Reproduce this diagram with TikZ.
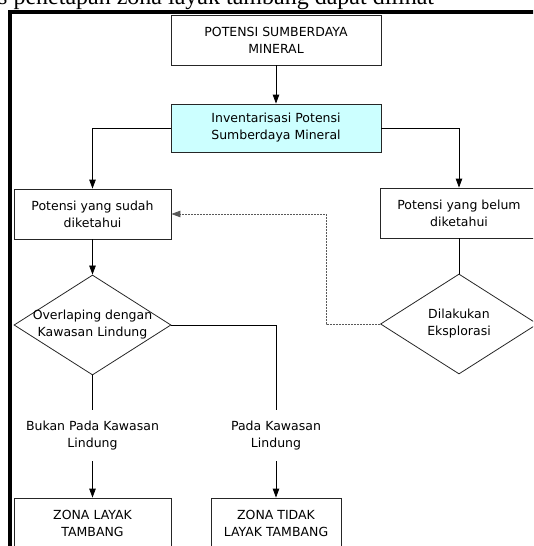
\documentclass[tikz,border=0pt]{standalone}
\usepackage{fontspec}
\newfontfamily\boxfont{DejaVu Sans}
\newfontfamily\pagefont{Liberation Serif}
\usetikzlibrary{shapes.geometric,arrows.meta}
\definecolor{invcyan}{RGB}{204,255,255}

\begin{document}
\begin{tikzpicture}[x=1pt,y=-1pt,
	box/.style={draw=black!85, line width=0.8pt, align=center, minimum height=50pt, inner sep=0pt, font=\boxfont\fontsize{12.5}{17}\selectfont},
	decision/.style={draw=black!85, line width=0.8pt, diamond, minimum width=157pt, minimum height=100pt, inner sep=0pt},
	txt/.style={align=center, inner sep=0pt, font=\boxfont\fontsize{12.5}{17}\selectfont},
	arr/.style={line width=0.8pt, -{Triangle[length=9pt,width=6.5pt]}},
	ln/.style={line width=0.8pt}]
			\useasboundingbox (0,0) rectangle (533,546);
			\clip (0,0) rectangle (533,546);
			% page text and frame
			\node[anchor=base west, inner sep=0pt, font=\pagefont\fontsize{24}{24}\selectfont] (pagetext) at (-2,4.5) {s penetapan zona layak tambang dapat dilihat};
			\draw[line width=4pt] (10,550) -- (10,12) -- (540,12);
			% boxes
			\node[box, minimum width=210pt] (potensi) at (276,40) {POTENSI SUMBERDAYA\\MINERAL};
			\node[box, fill=invcyan, minimum width=210pt, minimum height=48pt] (inventaris) at (276,128) {Inventarisasi Potensi\\Sumberdaya Mineral};
			\node[box, minimum width=157pt] (sudah) at (92.5,214) {Potensi yang sudah\\diketahui};
			\node[box, minimum width=158pt] (belum) at (459,213) {Potensi yang belum\\diketahui};
			\node[box, minimum width=157pt] (layak) at (92.5,523) {ZONA LAYAK\\TAMBANG};
			\node[box, minimum width=130pt] (tidaklayak) at (276,523) {ZONA TIDAK\\LAYAK TAMBANG};
			% decisions
			\node[decision] (overlap) at (92.5,325) {};
			\node[txt] (overlaptext) at (overlap) {Overlaping dengan\\Kawasan Lindung};
			\node[decision] (eksplorasi) at (459,324) {};
			\node[txt] (eksplorasitext) at (eksplorasi) {Dilakukan\\Eksplorasi};
			% line labels
			\node[txt, minimum height=51pt] (bukan) at (92.5,435.5) {Bukan Pada Kawasan\\Lindung};
			\node[txt, minimum height=51pt] (pada) at (276,435.5) {Pada Kawasan\\Lindung};
			% connectors
			\draw[arr] (potensi) -- (inventaris);
			\draw[arr] (inventaris.west) -| (sudah.north);
			\draw[arr] (inventaris.east) -| (belum.north);
			\draw[arr] (sudah) -- (overlap);
			\draw[ln] (belum) -- (eksplorasi);
			\draw[arr, black!65, dash pattern=on 2pt off 1pt] (eksplorasi.west) -- ++(-54,0) |- (sudah.east);
			\draw[ln] (overlap) -- (bukan);
			\draw[ln] (overlap.east) -| (pada.north);
			\draw[arr] (bukan) -- (layak);
			\draw[arr] (pada) -- (tidaklayak);
		\end{tikzpicture}
\end{document}
